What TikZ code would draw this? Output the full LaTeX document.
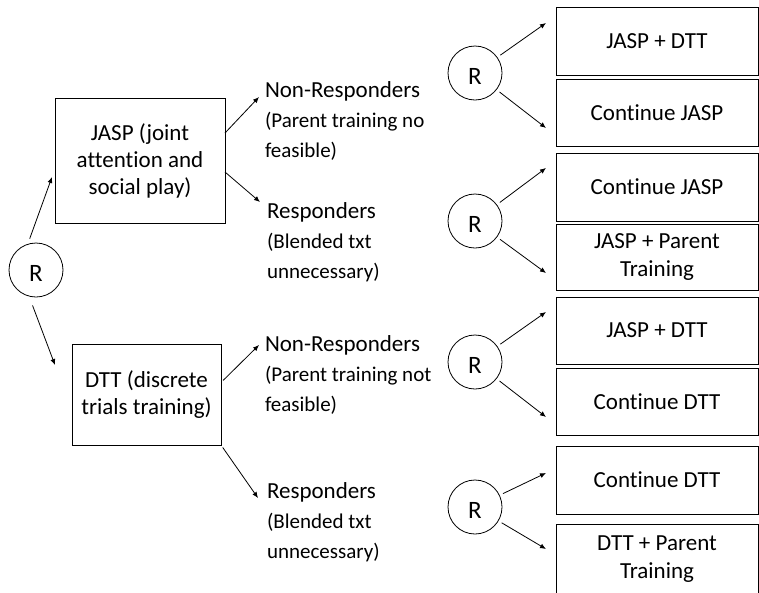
\documentclass[tikz,border=0pt]{standalone}
\usepackage{fontspec}
\setmainfont{Carlito}[Ligatures=NoCommon]
\usetikzlibrary{arrows.meta}
\newcommand\mkhd[1]{{\fontsize{23}{30}\selectfont #1}}
\begin{document}
\begin{tikzpicture}[x=1pt,y=-1pt,
  every node/.style={inner sep=0pt, outer sep=0pt},
  rnode/.style={draw, circle, minimum size=54pt, line width=0.8pt, font=\fontsize{25}{28}\selectfont, text height=23pt, text depth=0pt},
  tbox/.style={draw, rectangle, line width=0.8pt, align=center, font=\fontsize{23}{27}\selectfont},
  obox/.style={tbox, minimum width=202pt, font=\fontsize{23}{28}\selectfont},
  lbl/.style={anchor=base west, font=\fontsize{21}{30}\selectfont},
  arr/.style={line width=0.8pt, -{Latex[length=6pt,width=5pt]}}
]
\useasboundingbox (0,0) rectangle (759,592);

% first randomisation
\node[rnode] (R0) at (36,270) {R};
\node[tbox, minimum width=170pt, minimum height=125pt] (jasp) at (140,160.5) {JASP (joint\\attention and\\social play)};
\node[tbox, minimum width=149pt, minimum height=101pt] (dtt) at (146.5,394.5) {DTT (discrete\\trials training)};

% response labels
\node[lbl] (nr1) at (265,97) {\begin{tabular}[t]{@{}l@{}}\mkhd{Non-Responders}\\(Parent training no\\feasible)\end{tabular}};
\node[lbl] (rs1) at (267,218) {\begin{tabular}[t]{@{}l@{}}\mkhd{Responders}\\(Blended txt\\unnecessary)\end{tabular}};
\node[lbl] (nr2) at (265,351) {\begin{tabular}[t]{@{}l@{}}\mkhd{Non-Responders}\\(Parent training not\\feasible)\end{tabular}};
\node[lbl] (rs2) at (267,498) {\begin{tabular}[t]{@{}l@{}}\mkhd{Responders}\\(Blended txt\\unnecessary)\end{tabular}};

% second randomisations
\node[rnode] (m1) at (475,73) {R};
\node[rnode] (m2) at (475,221) {R};
\node[rnode] (m3) at (475,362) {R};
\node[rnode] (m4) at (475,507) {R};

% outcome boxes
\node[obox, minimum height=68pt] (b1) at (657,41) {JASP + DTT};
\node[obox, minimum height=67pt] (b2) at (657,112.5) {Continue JASP};
\node[obox, minimum height=68pt] (b3) at (657,187) {Continue JASP};
\node[obox, minimum height=66pt] (b4) at (657,257) {JASP + Parent\\Training};
\node[obox, minimum height=67pt] (b5) at (657,330.5) {JASP + DTT};
\node[obox, minimum height=67pt] (b6) at (657,401.5) {Continue DTT};
\node[obox, minimum height=68pt] (b7) at (657,480) {Continue DTT};
\node[obox, minimum height=70pt] (b8) at (657,559) {DTT + Parent\\Training};

% arrow end points
\coordinate (ja) at (52,177);
\coordinate (da) at (55,365);
\coordinate (n1a) at (259,97);
\coordinate (r1a) at (260,202);
\coordinate (n2a) at (259,345);
\coordinate (r2a) at (258,498);
\coordinate (e1) at (546,23);
\coordinate (e2) at (546,128);
\coordinate (e3) at (546,168);
\coordinate (e4) at (546,273);
\coordinate (e5) at (546,312);
\coordinate (e6) at (546,417);
\coordinate (e7) at (546,473);
\coordinate (e8) at (546,549);

% connectors
\draw[arr, shorten <=6pt] (R0.108) -- (ja);
\draw[arr, shorten <=10pt] (R0.-105) -- (da);
\draw[arr] ([yshift=27.5pt]jasp.east) -- (n1a);
\draw[arr] ([yshift=-11.5pt]jasp.east) -- (r1a);
\draw[arr, shorten <=3pt] ([yshift=12pt]dtt.east) -- (n2a);
\draw[arr, shorten <=3pt] (dtt.south east) -- (r2a);
\draw[arr, shorten <=4pt] (m1) -- (e1);
\draw[arr, shorten <=4pt] (m1) -- (e2);
\draw[arr, shorten <=4pt] (m2) -- (e3);
\draw[arr, shorten <=4pt] (m2) -- (e4);
\draw[arr, shorten <=4pt] (m3) -- (e5);
\draw[arr, shorten <=4pt] (m3) -- (e6);
\draw[arr, shorten <=4pt] (m4) -- (e7);
\draw[arr, shorten <=4pt] (m4) -- (e8);
\end{tikzpicture}
\end{document}
